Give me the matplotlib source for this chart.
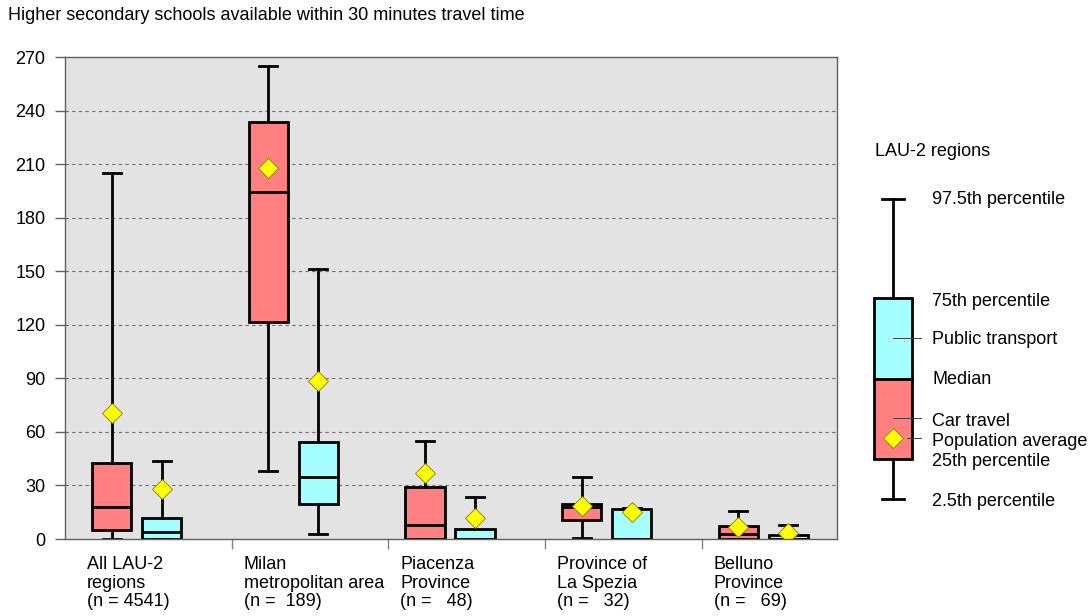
import matplotlib
matplotlib.use("Agg")
import matplotlib.pyplot as plt
from matplotlib.patches import Rectangle
from matplotlib.transforms import blended_transform_factory

plt.rcParams['font.family'] = ['Liberation Sans', 'DejaVu Sans']

title = "Higher secondary schools available within 30 minutes travel time"
categories = ["All LAU-2\nregions\n(n = 4541)",
              "Milan\nmetropolitan area\n(n =  189)",
              "Piacenza\nProvince\n(n =   48)",
              "Province of\nLa Spezia\n(n =   32)",
              "Belluno\nProvince\n(n =   69)"]

# Car travel: 2.5th, 25th, median, 75th, 97.5th percentile, population average
car_p025 = [0.0, 38.0, 0.0, 0.7, 0.0]
car_q1 = [5.0, 121.7, 0.0, 10.6, 0.0]
car_med = [17.8, 194.5, 7.8, 18.1, 2.8]
car_q3 = [42.4, 233.6, 29.3, 19.4, 7.5]
car_p975 = [205.0, 265.0, 54.9, 34.6, 15.9]
car_mean = [70.4, 207.7, 36.8, 18.7, 6.9]

# Public transport
pt_p025 = [0.0, 2.8, 0.0, 0.0, 0.0]
pt_q1 = [0.0, 19.6, 0.0, 0.0, 0.0]
pt_med = [4.1, 34.9, 0.0, 0.0, 0.0]
pt_q3 = [11.6, 54.5, 5.4, 16.6, 2.2]
pt_p975 = [43.9, 151.0, 23.7, 17.5, 7.8]
pt_mean = [27.8, 88.5, 11.6, 15.0, 3.2]

y_ticks = [0, 30, 60, 90, 120, 150, 180, 210, 240, 270]

FS = 13
car_color = "#FF8080"
pt_color = "#A6FFFF"
W, H = 1092, 616
fig = plt.figure(figsize=(W / 100, H / 100), dpi=100)
L, R, T, B = 65, 837, 57, 539
ax = fig.add_axes([L / W, 1 - B / H, (R - L) / W, (B - T) / H])
ax.set_facecolor("#E3E3E3")

def stats(lo, q1, med, q3, hi, mean):
    return [dict(whislo=a, q1=b, med=c, q3=d, whishi=e, mean=f)
            for a, b, c, d, e, f in zip(lo, q1, med, q3, hi, mean)]

n = len(categories)
car_pos = [i + 0.234 for i in range(n)]
pt_pos = [i + 0.553 for i in range(n)]

lw = 2.0
mean_style = dict(marker="D", markerfacecolor="#FFFF00", markeredgecolor="#808000",
                  markeredgewidth=0.6, markersize=10.5)
common = dict(widths=0.25, capwidths=0.115, patch_artist=True, showmeans=True,
              showfliers=False, manage_ticks=False,
              whiskerprops=dict(color="black", linewidth=lw),
              capprops=dict(color="black", linewidth=lw),
              medianprops=dict(color="black", linewidth=lw),
              meanprops=mean_style)
ax.bxp(stats(car_p025, car_q1, car_med, car_q3, car_p975, car_mean), positions=car_pos,
       boxprops=dict(facecolor=car_color, edgecolor="black", linewidth=lw), **common)
ax.bxp(stats(pt_p025, pt_q1, pt_med, pt_q3, pt_p975, pt_mean), positions=pt_pos,
       boxprops=dict(facecolor=pt_color, edgecolor="black", linewidth=lw), **common)

ax.set_xlim(-0.064, 4.863)
ax.set_ylim(0, 270)
ax.set_yticks(y_ticks)
ax.set_yticklabels([str(v) for v in y_ticks], fontsize=FS)
ax.tick_params(axis="y", direction="out", length=7, width=1, color="#606060", pad=7)
ax.set_xticks(range(1, n))
ax.set_xticklabels([])
ax.tick_params(axis="x", direction="out", length=7.5, width=1, color="#808080")
for v in y_ticks[1:-1]:
    ax.axhline(v, color="#707070", linestyle=(0, (3, 3)), linewidth=0.8, zorder=0.5)
for s in ax.spines.values():
    s.set_color("#606060")
    s.set_linewidth(1)

tr = blended_transform_factory(ax.transData, ax.transAxes)
for i, lab in enumerate(categories):
    ax.text(i + 0.077, -0.035, lab, transform=tr, ha="left", va="top",
            fontsize=FS, linespacing=1.13)

fig.text(8 / W, 1 - 16 / H, title, ha="left", va="center", fontsize=FS)

# Legend schematic
lg = fig.add_axes([0, 0, 1, 1])
lg.set_xlim(0, W)
lg.set_ylim(H, 0)
lg.axis("off")
cx = 893
lg.plot([cx, cx], [199, 298], color="black", lw=lw)
lg.plot([cx, cx], [459, 499], color="black", lw=lw)
lg.plot([cx - 11, cx + 11], [199, 199], color="black", lw=lw)
lg.plot([cx - 11, cx + 11], [499, 499], color="black", lw=lw)
lg.add_patch(Rectangle((874, 298), 38, 81, facecolor=pt_color, edgecolor="black", lw=lw))
lg.add_patch(Rectangle((874, 379), 38, 80, facecolor=car_color, edgecolor="black", lw=lw))
lg.plot([cx, 921], [338, 338], color="#404040", lw=0.7)
lg.plot([cx, 921], [418, 418], color="#404040", lw=0.7)
lg.plot([907, 921], [438, 438], color="#404040", lw=0.7)
lg.plot([cx], [438], **mean_style)
lg.text(875, 152, "LAU-2 regions", ha="left", va="center", fontsize=FS)
legend_labels = [("97.5th percentile", 200), ("75th percentile", 301),
                 ("Public transport", 340), ("Median", 380), ("Car travel", 421),
                 ("Population average", 441), ("25th percentile", 462),
                 ("2.5th percentile", 501)]
for t, y in legend_labels:
    lg.text(932, y, t, ha="left", va="center", fontsize=FS)

fig.savefig("out.png", dpi=100, facecolor="white")
